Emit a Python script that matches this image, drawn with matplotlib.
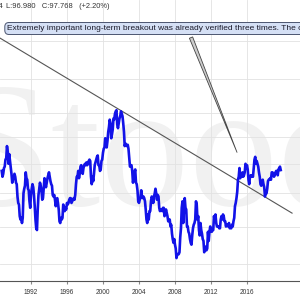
import numpy as np
import matplotlib.pyplot as plt
from matplotlib.ticker import NullLocator

plt.rcParams['font.family'] = ['Liberation Sans', 'DejaVu Sans']

# US dollar index, monthly, from Oct 1988
first_year = 1988
first_month = 10
dxy = [
    97.5, 95.5, 96.5,
    98.5, 99.0, 101.5, 102.0, 106.5, 104.5, 100.0, 103.5, 101.0, 98.5, 96.5, 93.5,
    94.5, 95.0, 96.5, 95.5, 93.5, 93.0, 89.0, 87.0, 86.5, 83.0, 82.0, 82.5,
    81.0, 82.5, 90.0, 91.5, 92.5, 97.0, 95.0, 94.5, 91.5, 91.0, 87.5, 85.5,
    89.5, 91.5, 93.0, 92.0, 89.5, 86.0, 82.0, 79.5, 79.0, 85.0, 89.5, 91.5,
    93.5, 92.5, 91.0, 88.0, 88.5, 91.5, 95.0, 93.0, 92.0, 93.5, 95.0, 96.0,
    97.0, 95.5, 94.0, 93.0, 92.5, 89.5, 89.0, 89.5, 88.0, 86.0, 88.0, 88.5,
    87.0, 85.0, 81.5, 81.0, 82.5, 82.0, 82.5, 86.5, 85.5, 84.5, 85.5, 85.0,
    87.0, 86.5, 87.0, 88.0, 88.5, 88.5, 87.0, 87.5, 88.0, 88.5, 88.0, 89.5,
    93.0, 95.5, 95.5, 97.5, 95.0, 96.5, 99.0, 99.5, 97.0, 96.5, 98.5, 99.5,
    100.0, 99.5, 100.5, 99.5, 100.0, 101.0, 101.5, 101.0, 95.5, 93.0, 95.5, 94.0,
    96.5, 99.5, 100.5, 101.5, 102.5, 103.0, 99.5, 99.5, 97.5, 98.0, 101.0, 101.5,
    104.0, 105.5, 106.0, 109.5, 109.0, 106.0, 108.5, 112.0, 114.0, 117.0, 115.5, 109.5,
    111.0, 113.0, 117.5, 117.0, 119.5, 120.5, 121.0, 115.0, 113.5, 115.5, 117.5, 118.5,
    120.5, 119.5, 118.5, 115.5, 112.0, 106.5, 107.5, 107.0, 106.5, 107.0, 105.5, 102.0,
    99.0, 99.5, 99.5, 97.5, 93.5, 95.0, 97.0, 98.0, 93.5, 93.0, 91.0, 87.5,
    87.0, 88.0, 88.5, 91.0, 89.0, 88.5, 89.0, 88.5, 87.5, 85.0, 82.0, 81.0,
    83.5, 82.0, 84.5, 84.5, 87.5, 89.0, 88.5, 87.0, 89.0, 90.0, 91.5, 90.0,
    88.0, 89.5, 89.0, 85.5, 84.5, 85.0, 85.0, 84.5, 85.5, 85.5, 83.0, 83.5,
    85.0, 84.0, 83.0, 81.5, 82.0, 82.0, 80.0, 80.5, 78.0, 76.5, 75.5, 76.5,
    75.0, 74.0, 71.5, 72.5, 72.5, 72.5, 73.0, 77.0, 79.5, 85.5, 87.5, 81.0,
    85.0, 88.5, 85.5, 85.0, 80.0, 80.0, 78.5, 78.0, 76.5, 75.5, 75.0, 77.5,
    79.5, 80.5, 81.0, 82.0, 87.5, 86.5, 82.0, 83.0, 79.0, 77.5, 81.0, 79.0,
    78.0, 76.5, 76.0, 73.0, 74.5, 74.0, 73.5, 74.0, 78.5, 76.0, 78.5, 80.0,
    79.0, 78.5, 79.0, 79.0, 83.0, 82.0, 83.5, 81.0, 80.0, 80.0, 80.0, 79.5,
    79.5, 82.0, 83.0, 82.0, 83.5, 83.0, 81.5, 81.5, 80.0, 80.5, 80.5, 80.0,
    81.0, 79.5, 80.0, 79.5, 80.5, 80.0, 81.5, 82.5, 86.0, 87.0, 88.5, 90.5,
    94.5, 95.5, 98.5, 95.0, 96.5, 95.5, 97.0, 95.5, 96.0, 97.0, 100.0, 98.5,
    99.5, 98.0, 94.5, 93.0, 95.5, 96.0, 95.5, 96.0, 95.5, 98.5, 101.5, 102.5,
    100.0, 101.0, 100.0, 99.0, 97.0, 95.5, 93.0, 92.5, 93.0, 94.5, 93.0, 92.0,
    89.0, 90.5, 90.0, 91.5, 94.0, 94.5, 94.5, 95.0, 94.5, 97.0, 97.0, 96.5,
    95.5, 96.0, 97.0, 97.5, 97.5, 96.0, 98.0, 98.5, 99.0, 97.8,
]
dates = first_year + (first_month - 0.5 + np.arange(len(dxy))) / 12

trend_years = [1988.6, 2021.05]
trend_values = [156.4, 83.9]
callout_point = (2015.05, 103.2)

tick_years = [1992, 1996, 2000, 2004, 2008, 2012, 2016]
grid_values = [70, 80, 90, 100, 110, 120, 135, 155]

header_hidden = 'H:98.954'
header = 'L:96.980   C:97.768   (+2.20%)'
note = ('Extremely important long-term breakout was already verified '
        'three times. The ou')

fig = plt.figure(figsize=(3, 3), dpi=100)
ax = fig.add_axes([0, 19 / 300, 1, 281 / 300])
ax.set_yscale('log')
ax.set_xlim(1988.6, 1988.6 + 300 / 9)
ax.set_ylim(65.9, 179.1)

# faint site watermark
ax.text(-0.16, 0.27, 'Stooq', transform=ax.transAxes, fontsize=128,
        family='Liberation Serif', color='#f1f1f1', zorder=0)

ax.set_yticks(grid_values)
ax.yaxis.set_minor_locator(NullLocator())
ax.tick_params(axis='y', left=False, labelleft=False)
ax.set_xticks(tick_years)
ax.set_xticklabels([str(y) for y in tick_years])
ax.tick_params(axis='x', length=2, color='#888888', labelsize=4.7,
               labelcolor='#333333', pad=3.5)
ax.grid(True, color='#e2e2e2', linewidth=0.6, zorder=1)
ax.set_axisbelow(True)

for side in ['top', 'right', 'left']:
    ax.spines[side].set_visible(False)
ax.spines['bottom'].set_color('#555555')
ax.spines['bottom'].set_linewidth(0.8)

ax.plot(trend_years, trend_values, color='#555555', linewidth=0.8, zorder=2)
ax.plot(dates, dxy, color='#1212e8', linewidth=1.9, zorder=3)

ax.text(3 / 300, (281 - 7) / 281, header_hidden, transform=ax.transAxes,
        fontsize=5.4, va='center', ha='right', color='#333333')
ax.text(6.5 / 300, (281 - 7) / 281, header, transform=ax.transAxes,
        fontsize=5.4, va='center', color='#333333')

ax.annotate('', xy=callout_point, xycoords='data',
            xytext=(190 / 300, (281 - 35) / 281), textcoords='axes fraction',
            arrowprops=dict(arrowstyle='wedge,tail_width=0.25,shrink_factor=0.5',
                            fc='#cccccc', ec='#444444', lw=0.6), zorder=4)
ax.text(7.3 / 300, (281 - 28.5) / 281, note, transform=ax.transAxes,
        fontsize=6, va='center', color='#1a1a2a', zorder=5,
        bbox=dict(boxstyle='round,pad=0.3,rounding_size=0.5',
                  fc='#d5e0f5', ec='#4c5670', lw=0.7))

fig.savefig('out.png', dpi=100)
